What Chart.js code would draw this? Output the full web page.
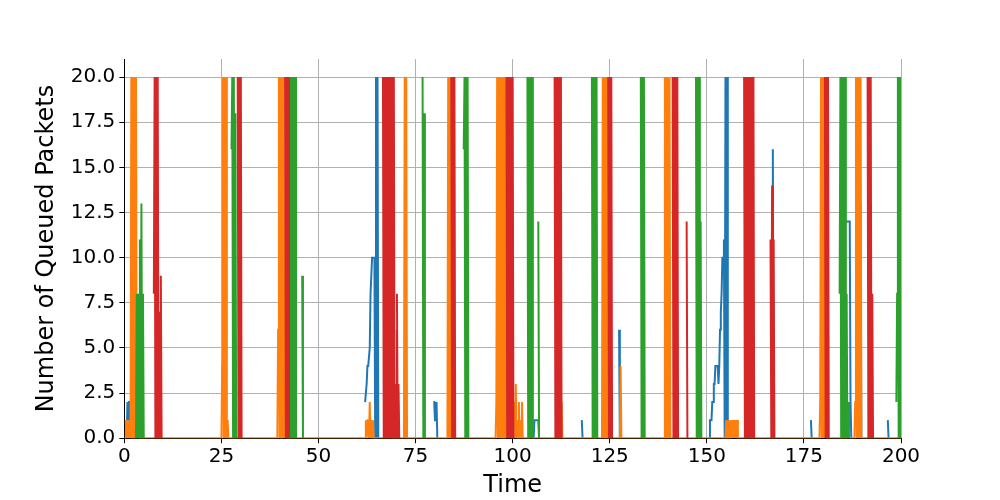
<!DOCTYPE html>
<html>
<head>
<meta charset="utf-8">
<script src="https://cdn.jsdelivr.net/npm/chart.js@4"></script>
<style>
  body { margin: 0; background: #fff; }
  #wrap { width: 1000px; height: 500px; }
</style>
</head>
<body>
<div id="wrap"><canvas id="queueChart"></canvas></div>
<script>
// burst start times and the queue values (one value every STEP time units)
const STEP = 0.2;

const blueStarts = [0.6, 62, 79.6, 105.2, 117.8, 127.4, 150.4, 166.8, 176.8, 185, 189.6, 196.6];
const blueBursts = [
  "0 2 1 2 2 0 4 19 0 18 0",
  "2 2 3 4 4 4 5 8 9 10 10 10 10 0 20 0 20 0",
  "2 2 1 1 2 0",
  "0 0 1 1 1 1 1 1 0",
  "1 0",
  "6 0",
  "0 0 1 1 1 2 2 3 3 4 4 4 4 3 4 6 7 8 10 10 11 0 20 0 20 0",
  "0 16 0",
  "1 0",
  "10 11 12 12 12 12 12 12 12 12 2 0",
  "13 0",
  "1 0"
];

const orangeStarts = [0.4, 25.2, 39.6, 62.2, 72.2, 83.4, 95.8, 100.4, 112.2, 123.2, 127.8, 139.2, 155, 179.2, 188.2];
const orangeBursts = [
  "1 0 1 0 0 1 0 20 0 20 0 20 0 20 0 8 0 1 0",
  "4 20 0 20 0 20 0 1 0",
  "6 20 0 20 0 20 0 20 0 2 0",
  "1 0 1 1 0 2 0 1 0 1 0",
  "20 0 20 0",
  "20 0 20 0 20 0",
  "2 20 0 20 0 20 0 20 0 20 0 20 0 20 0 20 0 20 0 20 0",
  "2 0 3 0 1 0 2 0 1 0 2 0",
  "20 0 2 0",
  "20 0 20 0 20 0 20 0 5 0",
  "4 0",
  "20 0 20 0 20 0 20 0",
  "1 0 1 0 1 0 1 0 1 0 1 0 1 0 1 0",
  "2 20 0 20 0 20 0 20 0 20 0",
  "2 20 0 20 0 20 0 20 0"
];

const greenStarts = [3, 27.6, 29.8, 42, 45.8, 76.8, 87.4, 103.8, 106.6, 120.4, 133, 147.2, 161, 184.2, 198.8];
const greenBursts = [
  "0 8 0 8 0 11 0 13 0 8 0",
  "16 20 0 20 0 18 0",
  "8 0",
  "20 0 20 0 20 0 20 0 20 0 20 0",
  "9 0",
  "20 0 18 0",
  "16 20 0 20 0 20 0",
  "20 0 20 0 20 0 20 0",
  "12 0",
  "20 0 20 0 20 0 20 0",
  "20 0 20 0 20 0",
  "20 0 20 0 20 0 12 0",
  "20 0 16 0",
  "8 20 0 20 0 20 0 20 0 8 0 2 0",
  "2 8 20 0 20 0 20"
];

const redStarts = [7.6, 29.2, 41.4, 66.6, 70.2, 84.2, 98.4, 110.8, 124.6, 141.2, 144.8, 159.6, 166.4, 180.4, 191.4];
const redBursts = [
  "8 20 0 20 0 20 0 7 0 9 0",
  "20 0 20 0 20 0",
  "20 0 20 0 20 0",
  "20 0 20 0 20 0 20 0 20 0 20 0 20 0 20 0 3 0 6 0 3 0",
  "8 0",
  "20 0 20 0 20 0",
  "20 0 20 0 20 0 20 0 20 0",
  "20 0 20 0 20 0 20 0 20 0",
  "20 0 20 0 20 0",
  "20 0 20 0 20 0 20 0",
  "12 0",
  "20 0 20 0 20 0 20 0 20 0 20 0 20 0",
  "11 0 14 0 11 0",
  "20 0 20 0 20 0",
  "20 0 20 0 20 0 8 0"
];

const xTicks = [0, 25, 50, 75, 100, 125, 150, 175, 200];
const yTicks = [0, 2.5, 5, 7.5, 10, 12.5, 15, 17.5, 20];

// turn the bursts into {x, y} points; orange sits on 0 between bursts, the others break (null)
function toPoints(starts, bursts, fillZero) {
  const pts = [];
  if (fillZero) pts.push({x: 0, y: 0});
  starts.forEach((t0, i) => {
    const vals = bursts[i].split(" ").map(Number);
    if (fillZero) pts.push({x: +(t0 - STEP).toFixed(2), y: 0});
    vals.forEach((v, j) => pts.push({x: +(t0 + j * STEP).toFixed(2), y: v}));
    pts.push({x: +(t0 + vals.length * STEP).toFixed(2), y: fillZero ? 0 : null});
  });
  if (fillZero) pts.push({x: 200, y: 0});
  return pts;
}

const mk = (data, color) => ({
  data: data,
  borderColor: color,
  backgroundColor: color,
  borderWidth: 2,
  pointRadius: 0,
  tension: 0,
  spanGaps: false
});

const tickFont = { family: 'DejaVu Sans', size: 20 };
const titleFont = { family: 'DejaVu Sans', size: 24 };

new Chart(document.getElementById('queueChart'), {
  type: 'line',
  data: {
    datasets: [
      mk(toPoints(redStarts, redBursts, false), '#d62728'),
      mk(toPoints(greenStarts, greenBursts, false), '#2ca02c'),
      mk(toPoints(orangeStarts, orangeBursts, true), '#ff7f0e'),
      mk(toPoints(blueStarts, blueBursts, false), '#1f77b4')
    ].map((d, i) => Object.assign(d, {order: i}))
  },
  options: {
    responsive: true,
    maintainAspectRatio: false,
    animation: false,
    layout: { padding: { top: 59, right: 99, left: 28, bottom: 0 } },
    plugins: { legend: { display: false }, tooltip: { enabled: false } },
    scales: {
      x: {
        type: 'linear', min: 0, max: 200,
        afterBuildTicks: ax => { ax.ticks = xTicks.map(v => ({value: v})); },
        ticks: { color: '#000', font: tickFont, padding: 2, maxRotation: 0 },
        grid: { color: '#b0b0b0', lineWidth: 1, tickLength: 5, tickColor: '#000' },
        border: { color: '#000', width: 1 },
        title: { display: true, text: 'Time', color: '#000', font: titleFont, padding: { top: 0, bottom: 0 } }
      },
      y: {
        min: 0, max: 21,
        afterBuildTicks: ax => { ax.ticks = yTicks.map(v => ({value: v})); },
        ticks: { color: '#000', font: tickFont, callback: v => v.toFixed(1), padding: 4 },
        grid: { color: '#b0b0b0', lineWidth: 1, tickLength: 5, tickColor: '#000' },
        border: { color: '#000', width: 1 },
        title: { display: true, text: 'Number of Queued Packets', color: '#000', font: titleFont, padding: { bottom: 6 } }
      }
    }
  }
});
</script>
</body>
</html>
